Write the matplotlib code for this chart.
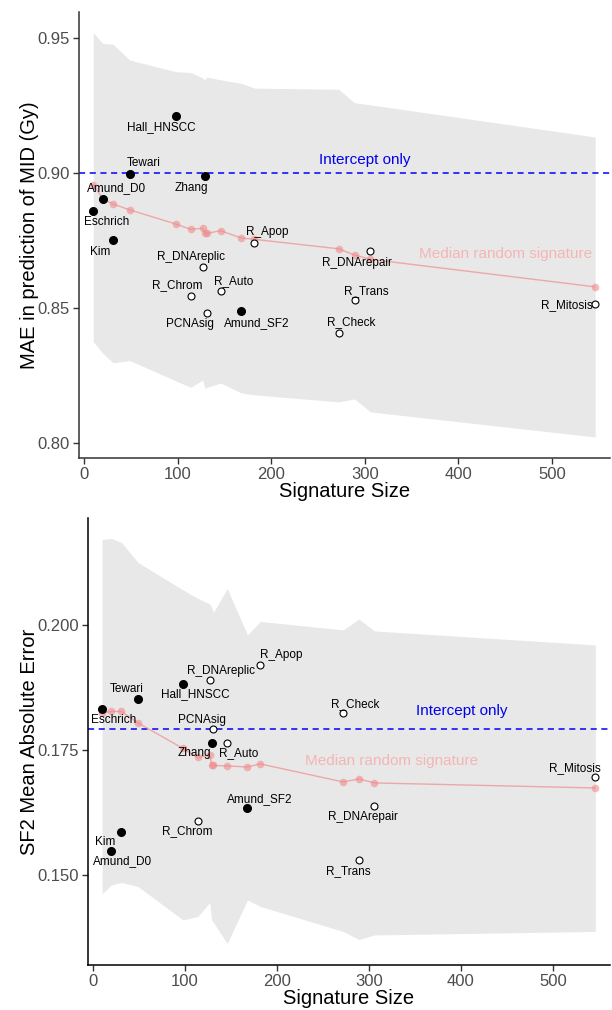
import matplotlib
matplotlib.use("Agg")
import matplotlib.pyplot as plt

plt.rcParams["font.family"] = ["Liberation Sans", "DejaVu Sans"]

# published / random signatures
names = ["Eschrich", "Amund_D0", "Kim", "Tewari", "Hall_HNSCC", "Zhang", "Amund_SF2",
         "PCNAsig", "R_Chrom", "R_DNAreplic", "R_Auto", "R_Apop", "R_Check", "R_Trans",
         "R_DNArepair", "R_Mitosis"]
sig_size = [10, 20, 31, 49, 98, 129, 168, 131, 114, 127, 146, 182, 272, 289, 306, 546]
published = [1, 1, 1, 1, 1, 1, 1, 0, 0, 0, 0, 0, 0, 0, 0, 0]
mae_mid = [0.8860, 0.8904, 0.8752, 0.8995, 0.9210, 0.8989, 0.8490, 0.8480, 0.8544,
           0.8652, 0.8563, 0.8740, 0.8408, 0.8530, 0.8710, 0.8515]
mae_sf2 = [0.1832, 0.1548, 0.1586, 0.1852, 0.1882, 0.1764, 0.1634, 0.1792, 0.1608,
           0.1890, 0.1764, 0.1920, 0.1824, 0.1530, 0.1638, 0.1696]

# random signature summaries
rand_size = [10, 20, 31, 49, 98, 114, 127, 129, 131, 146, 168, 182, 272, 289, 306, 546]
mid_median = [0.8956, 0.8905, 0.8885, 0.8863, 0.8811, 0.8791, 0.8795, 0.8778, 0.8776,
              0.8786, 0.8759, 0.8754, 0.8719, 0.8696, 0.8680, 0.8578]
mid_upper = [0.9520, 0.9480, 0.9477, 0.9418, 0.9375, 0.9372, 0.9352, 0.9344, 0.9355,
             0.9345, 0.9332, 0.9314, 0.9310, 0.9260, 0.9252, 0.9133]
mid_lower = [0.8375, 0.8333, 0.8297, 0.8305, 0.8230, 0.8206, 0.8233, 0.8203, 0.8205,
             0.8222, 0.8185, 0.8178, 0.8152, 0.8163, 0.8115, 0.8022]
sf2_median = [0.1824, 0.1827, 0.1827, 0.1804, 0.1753, 0.1735, 0.1740, 0.1720, 0.1719,
              0.1718, 0.1716, 0.1722, 0.1686, 0.1692, 0.1684, 0.1674]
sf2_upper = [0.2171, 0.2173, 0.2165, 0.2125, 0.2070, 0.2053, 0.2042, 0.2035, 0.2025,
             0.2073, 0.1980, 0.2007, 0.1990, 0.2012, 0.1988, 0.1960]
sf2_lower = [0.1462, 0.1480, 0.1485, 0.1477, 0.1410, 0.1417, 0.1445, 0.1410, 0.1405,
             0.1363, 0.1450, 0.1437, 0.1387, 0.1371, 0.1380, 0.1387]

intercept_mid = 0.8998
intercept_sf2 = 0.1792

# label offsets in pixels (dx, dy), one per signature
off_mid = [(13, -11), (14, 11), (-13, -12), (14, 11), (-14, -11), (-13, -12), (15, -12),
           (-17, -11), (-13, 11), (-12, 10), (13, 10), (13, 11), (13, 11), (12, 9),
           (-14, -12), (-28, -1)]
off_sf2 = [(12, -11), (11, -10), (-16, -10), (-11, 10), (12, -10), (-17, -10), (12, 9),
           (-11, 9), (-11, -10), (11, 9), (11, -10), (21, 10), (12, 9), (-11, -11),
           (-12, -11), (-20, 9)]

PINK = "#F08C8C"


def panel(ax, vals, med, lo, hi, icpt, offs, ylabel, icpt_xy, med_xy, spine_col):
    ax.fill_between(rand_size, lo, hi, color="#E8E8E8", lw=0, zorder=0)
    ax.axhline(icpt, color="#0000FF", ls=(0, (4, 3)), lw=1.1, zorder=1)
    ax.plot(rand_size, med, color=PINK, lw=1, alpha=0.7, zorder=2)
    ax.plot(rand_size, med, "o", color=PINK, ms=5.5, mec="none", alpha=0.6, zorder=2)
    for n, x, y, p, o in zip(names, sig_size, vals, published, offs):
        if p:
            ax.plot(x, y, "o", color="black", ms=5.5, zorder=3)
        else:
            ax.plot(x, y, "o", mfc="white", mec="black", mew=0.8, ms=5, zorder=3)
        ax.annotate(n, (x, y), xytext=o, textcoords="offset pixels", ha="center",
                    va="center", fontsize=8.5, color="black", zorder=4)
    ax.text(icpt_xy[0], icpt_xy[1], "Intercept only", color="#0000EE", fontsize=11,
            ha="center", va="center")
    ax.text(med_xy[0], med_xy[1], "Median random signature", color="#F5B5B5",
            fontsize=11, ha="center", va="center")
    ax.set_xlim(-5.3, 562)
    ax.set_xticks([0, 100, 200, 300, 400, 500])
    ax.set_xlabel("Signature Size", fontsize=14.5, labelpad=0)
    ax.set_ylabel(ylabel, fontsize=14.5, labelpad=-1)
    for s in ["top", "right"]:
        ax.spines[s].set_visible(False)
    for s in ["left", "bottom"]:
        ax.spines[s].set_color(spine_col)
        ax.spines[s].set_linewidth(1.1)
    ax.tick_params(labelsize=12, labelcolor="#4D4D4D", color="#333333", length=4,
                   width=1, pad=2.5)


fig = plt.figure(figsize=(6.12, 10.10), dpi=100)

ax1 = fig.add_axes([0.129, 0.5465, 0.868, 0.4416])
panel(ax1, mae_mid, mid_median, mid_lower, mid_upper, intercept_mid, off_mid,
      "MAE in prediction of MID (Gy)", (300, 0.9048), (450, 0.870), "#333333")
ax1.set_ylim(0.7944, 0.9596)
ax1.set_yticks([0.80, 0.85, 0.90, 0.95])
ax1.set_yticklabels(["0.80", "0.85", "0.90", "0.95"])

ax2 = fig.add_axes([0.1438, 0.0446, 0.853, 0.4426])
panel(ax2, mae_sf2, sf2_median, sf2_lower, sf2_upper, intercept_sf2, off_sf2,
      "SF2 Mean Absolute Error", (401, 0.1828), (325, 0.1728), "black")
ax2.set_ylim(0.132, 0.2214)
ax2.set_yticks([0.150, 0.175, 0.200])
ax2.set_yticklabels(["0.150", "0.175", "0.200"])

fig.savefig("out.png", dpi=100)
